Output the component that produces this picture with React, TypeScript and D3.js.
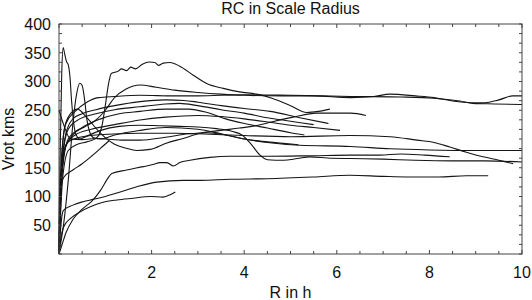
import { useRef, useEffect } from 'react'
import * as d3 from 'd3'

type Pt = [number, number]

const WIDTH = 532
const HEIGHT = 300
const MARGIN = { top: 24, right: 10, bottom: 46, left: 59 }

const TITLE = 'RC in Scale Radius'
const X_LABEL = 'R in h'
const Y_LABEL = 'Vrot kms'
const X_TICK_LABELS = [2, 4, 6, 8, 10]
const Y_TICK_LABELS = [50, 100, 150, 200, 250, 300, 350, 400]

// rotation curves, [R/h, Vrot]
const rcHump: Pt[] = [[0,0],[0.03,62],[0.08,133],[0.2,180],[0.4,191],[0.6,195],[0.8,201],[0.92,220],[1.0,258],[1.07,296],[1.13,314],[1.28,318],[1.35,322],[1.46,319],[1.55,325],[1.65,322],[1.8,330],[1.95,334],[2.07,333],[2.15,328],[2.25,332],[2.4,333],[2.6,327],[2.9,311],[3.2,296],[3.55,288],[3.9,282],[4.27,278],[4.6,271],[5.0,258],[5.35,246],[5.6,248],[5.85,252]]
const rcTop1: Pt[] = [[0,8],[0.04,103],[0.12,180],[0.3,207],[0.55,221],[0.8,233],[1.0,250],[1.2,272],[1.45,287],[1.75,294],[2.1,290],[2.5,285],[3.0,281],[3.5,278],[4.0,276],[4.8,275],[5.5,275],[6.3,272],[6.8,274],[7.15,278],[7.7,275],[8.1,272],[8.5,266],[8.9,263],[9.2,263],[9.5,268],[9.8,275],[10,275]]
const rcTop2: Pt[] = [[0,18],[0.05,164],[0.15,227],[0.35,248],[0.6,264],[0.85,272],[1.2,274],[1.75,276],[2.5,275],[3.0,275],[4.0,277],[5.0,276],[6.3,274],[7.4,273],[8.1,271],[8.66,266],[8.94,262],[9.4,261],[10,260]]
const rcMid1: Pt[] = [[0,32],[0.05,144],[0.15,210],[0.3,235],[0.5,244],[0.8,251],[1.2,258],[1.75,265],[2.3,268],[2.7,267],[3.0,264],[3.5,258],[4.0,253],[4.56,248],[5.2,237],[5.82,227]]
const rcMid2: Pt[] = [[0,22],[0.06,154],[0.2,217],[0.45,235],[0.75,243],[1.2,251],[1.75,256],[2.3,261],[2.6,262],[3.0,258],[3.5,251],[4.0,245],[4.5,237],[5.0,231],[5.5,225]]
const rcMid3: Pt[] = [[0,12],[0.06,134],[0.2,200],[0.5,220],[0.9,235],[1.3,244],[1.75,248],[2.3,252],[2.8,252],[3.2,246],[3.6,235],[4.0,227],[4.5,219],[5.0,211],[5.3,207]]
const rcMid4: Pt[] = [[0,2],[0.05,124],[0.15,190],[0.35,207],[0.7,217],[1.2,225],[1.75,233],[2.3,238],[3.0,241],[3.5,239],[4.0,235],[4.56,229],[5.0,224],[5.5,220],[6.07,215]]
const rcSpike360: Pt[] = [[0,52],[0.03,195],[0.06,317],[0.09,359],[0.12,349],[0.16,335],[0.2,329],[0.24,305],[0.27,268],[0.31,233],[0.36,209],[0.45,200],[0.6,205],[0.9,215],[1.3,222],[1.75,224],[2.2,223],[2.6,222],[3.0,221],[3.4,218],[3.75,213],[3.95,207],[4.13,193],[4.34,172],[4.5,164],[4.85,163],[5.15,166],[5.42,169],[5.8,167],[6.3,166],[7.0,165],[7.7,163],[8.5,162],[9.2,162],[10,160]]
const rcSpike300: Pt[] = [[0,2],[0.1,52],[0.2,128],[0.3,227],[0.38,278],[0.45,297],[0.5,293],[0.56,264],[0.6,235],[0.66,213],[0.75,202],[0.9,200],[1.2,207],[1.75,215],[2.3,220],[3.0,217],[3.5,209],[4.0,200],[4.6,193],[5.2,189],[6.3,187],[7.15,183],[8,181],[9,180],[10,180]]
const rcFlat: Pt[] = [[0,0],[0.03,93],[0.08,169],[0.2,195],[0.45,203],[0.8,207],[1.3,209],[1.75,210],[2.5,210],[3.0,209],[4.0,206],[5.0,204],[6.28,206],[7.15,204],[7.73,198],[8.1,194],[8.44,186],[8.8,177],[9.16,169],[9.5,163],[9.81,157]]
const rcDrop: Pt[] = [[0,250],[0.1,225],[0.25,200],[0.5,199],[0.8,201],[1.0,200],[1.4,198],[1.75,198],[2.3,203],[2.8,209],[3.2,211],[3.6,207],[4.0,200],[4.5,195],[5.17,190]]
const rcDip: Pt[] = [[0,2],[0.05,144],[0.12,220],[0.25,244],[0.4,252],[0.6,237],[0.91,209],[1.2,191],[1.45,184],[1.68,180],[1.97,182],[2.33,193],[2.68,201],[3.05,210],[3.5,215],[3.9,219],[4.3,224],[4.56,229],[5.06,238],[5.56,245],[6.0,245],[6.3,245],[6.63,241]]
const rcWavy: Pt[] = [[0,0],[0.05,12],[0.15,37],[0.3,60],[0.5,78],[0.7,91],[0.9,111],[1.05,131],[1.14,140],[1.46,146],[1.82,152],[2.05,156],[2.18,159],[2.33,159],[2.47,153],[2.61,159],[2.83,163],[3.26,168],[3.69,170],[4.5,170],[5.5,171],[6.3,172],[6.93,172],[7.37,174],[7.9,172],[8.44,169]]
const rcLow1: Pt[] = [[0,0],[0.02,27],[0.05,57],[0.09,75],[0.3,85],[0.52,91],[0.74,95],[1.0,100],[1.25,106],[1.68,117],[2.11,125],[2.68,128],[3.05,128],[3.69,130],[4.5,131],[5.5,134],[6.28,137],[7.0,135],[7.5,134],[8.2,134],[8.8,136],[9.27,136]]
const rcLow2: Pt[] = [[0,0],[0.03,22],[0.1,47],[0.25,62],[0.45,73],[0.7,83],[0.95,90],[1.25,94],[1.6,97],[1.97,100],[2.25,99],[2.4,103],[2.51,108]]
const rcShort: Pt[] = [[0,8],[0.02,73],[0.05,118],[0.1,133],[0.3,146],[0.5,157],[0.7,170],[0.9,184],[1.08,197]]

const CURVES = [rcHump, rcTop1, rcTop2, rcMid1, rcMid2, rcMid3, rcMid4, rcSpike360, rcSpike300, rcFlat, rcDrop, rcDip, rcWavy, rcLow1, rcLow2, rcShort]

const FONT = '"Liberation Sans", Arial, Helvetica, sans-serif'

export default function App() {
  const svgRef = useRef<SVGSVGElement>(null)

  useEffect(() => {
    if (!svgRef.current) return
    const svg = d3.select(svgRef.current)
    svg.selectAll('*').remove()

    const x0 = MARGIN.left
    const x1 = WIDTH - MARGIN.right
    const y0 = HEIGHT - MARGIN.bottom
    const y1 = MARGIN.top

    const x = d3.scaleLinear().domain([0, 10]).range([x0, x1])
    const y = d3.scaleLinear().domain([0, 400]).range([y0, y1])

    svg.append('rect').attr('width', WIDTH).attr('height', HEIGHT).attr('fill', '#fff')

    // curves
    const line = d3
      .line<Pt>()
      .x((d) => x(d[0]))
      .y((d) => y(d[1]))
      .curve(d3.curveMonotoneX)

    svg
      .append('g')
      .selectAll('path')
      .data(CURVES)
      .join('path')
      .attr('d', (d) => line(d))
      .attr('fill', 'none')
      .attr('stroke', '#151515')
      .attr('stroke-width', 1.1)
      .attr('stroke-linejoin', 'round')

    // frame + inward ticks
    const frame = svg.append('g').attr('stroke', '#444').attr('stroke-width', 1).attr('fill', 'none')
    frame.append('rect').attr('x', x0).attr('y', y1).attr('width', x1 - x0).attr('height', y0 - y1)

    const xTicks = d3.range(0, 10.01, 0.5)
    xTicks.forEach((t) => {
      const len = t % 2 === 0 ? 4 : 3
      frame.append('line').attr('x1', x(t)).attr('x2', x(t)).attr('y1', y0).attr('y2', y0 - len)
      frame.append('line').attr('x1', x(t)).attr('x2', x(t)).attr('y1', y1).attr('y2', y1 + len)
    })
    const yTicks = d3.range(0, 25).map((i) => (i * 400) / 24)
    yTicks.forEach((t) => {
      frame.append('line').attr('x1', x0).attr('x2', x0 + 3).attr('y1', y(t)).attr('y2', y(t))
      frame.append('line').attr('x1', x1).attr('x2', x1 - 3).attr('y1', y(t)).attr('y2', y(t))
    })

    // labels
    const txt = svg.append('g').attr('font-family', FONT).attr('fill', '#111').attr('font-size', 16)

    txt
      .selectAll('.xt')
      .data(X_TICK_LABELS)
      .join('text')
      .attr('class', 'xt')
      .attr('x', (d) => x(d))
      .attr('y', y0 + 24)
      .attr('text-anchor', 'middle')
      .text((d) => d)

    txt
      .selectAll('.yt')
      .data(Y_TICK_LABELS)
      .join('text')
      .attr('class', 'yt')
      .attr('x', x0 - 8)
      .attr('y', (d) => y(d))
      .attr('dy', '0.36em')
      .attr('text-anchor', 'end')
      .text((d) => d)

    txt
      .append('text')
      .attr('x', (x0 + x1) / 2)
      .attr('y', 14)
      .attr('text-anchor', 'middle')
      .text(TITLE)

    txt
      .append('text')
      .attr('x', (x0 + x1) / 2)
      .attr('y', 298)
      .attr('text-anchor', 'middle')
      .text(X_LABEL)

    txt
      .append('text')
      .attr('transform', `translate(14,${(y0 + y1) / 2}) rotate(-90)`)
      .attr('text-anchor', 'middle')
      .text(Y_LABEL)
  }, [])

  return (
    <svg
      ref={svgRef}
      width={WIDTH}
      height={HEIGHT}
      style={{ position: 'absolute', left: 0, top: 0, display: 'block' }}
    />
  )
}
